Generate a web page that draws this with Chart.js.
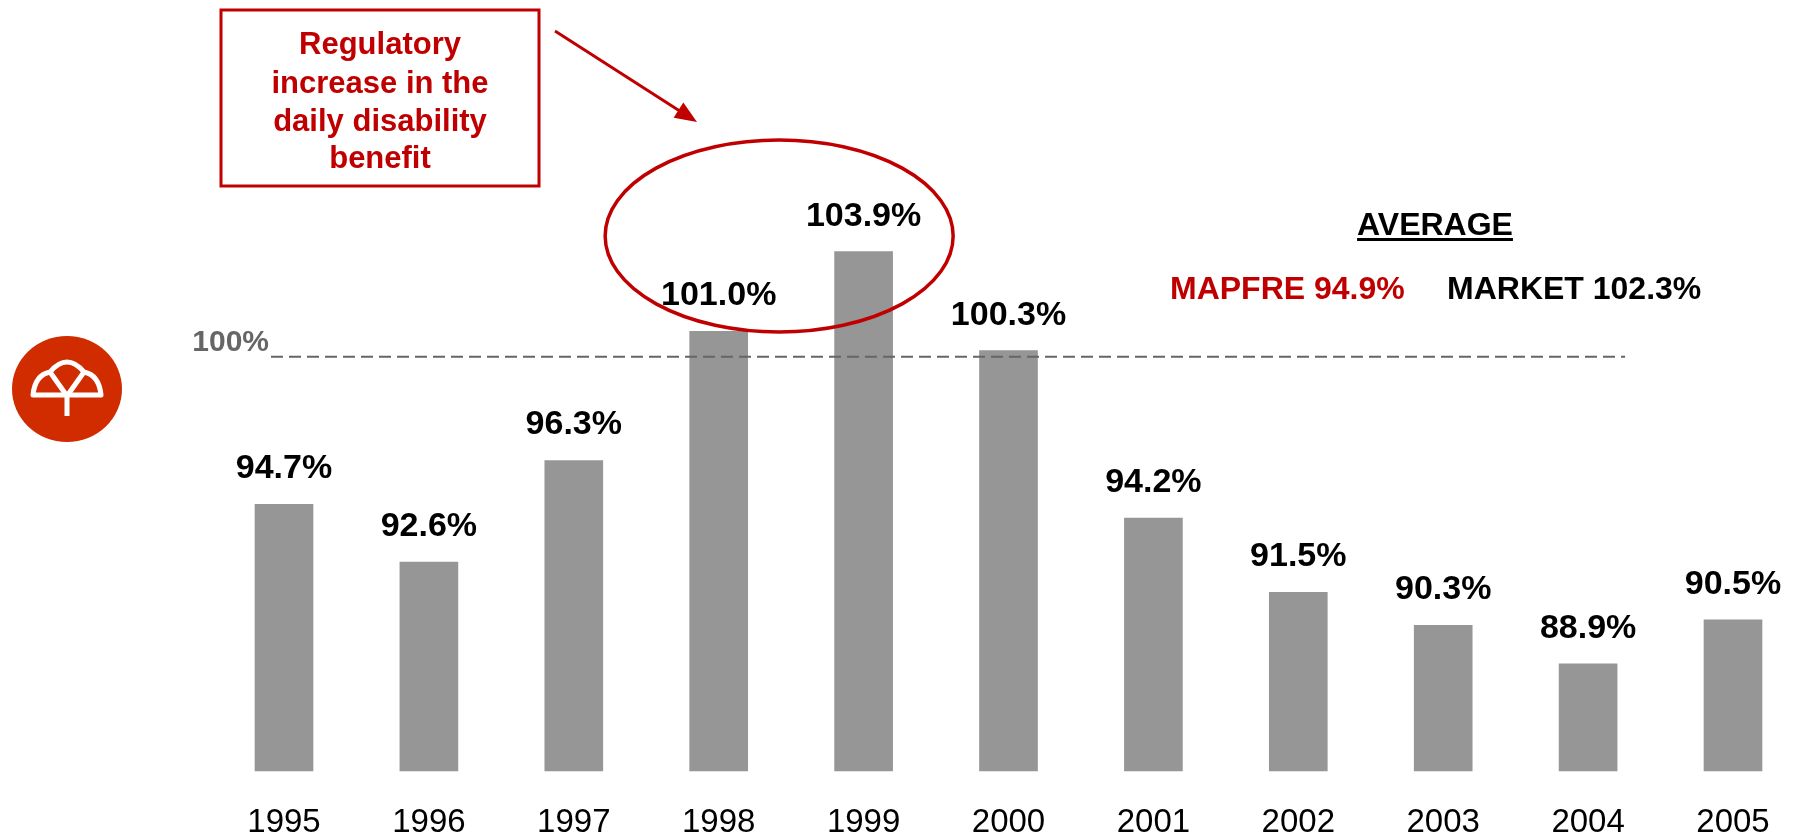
<!DOCTYPE html>
<html>
<head>
<meta charset="utf-8">
<script src="https://cdn.jsdelivr.net/npm/chart.js@4/dist/chart.umd.min.js"></script>
<style>
  html, body { margin: 0; padding: 0; background: #ffffff; }
  canvas { display: block; }
</style>
</head>
<body>
<canvas id="c" width="1798" height="837"></canvas>
<script>
// ---- data ----
const categories = ['1995', '1996', '1997', '1998', '1999', '2000', '2001', '2002', '2003', '2004', '2005'];
const ratios = [94.7, 92.6, 96.3, 101.0, 103.9, 100.3, 94.2, 91.5, 90.3, 88.9, 90.5];
const axisMin = 85;
const axisMax = 110;
const referenceValue = 100;
const referenceLabel = '100%';
const averageTitle = 'AVERAGE';
const mapfreAverage = 94.9;
const marketAverage = 102.3;
const noteLines = ['Regulatory', 'increase in the', 'daily disability', 'benefit'];
const highlightedYears = ['1998', '1999'];

const FONT = "'Liberation Sans', Arial, sans-serif";
const RED = '#c00000';

const overlayPlugin = {
  id: 'overlay',
  afterDatasetsDraw(chart) {
    const ctx = chart.ctx;
    const xs = chart.scales.x;
    const ys = chart.scales.y;
    const meta = chart.getDatasetMeta(0);
    ctx.save();

    // reference dashed line
    const yRef = ys.getPixelForValue(referenceValue) - 2;
    ctx.strokeStyle = '#666666';
    ctx.lineWidth = 2;
    ctx.setLineDash([12, 6]);
    ctx.beginPath();
    ctx.moveTo(xs.getPixelForValue(0) - 13, yRef);
    ctx.lineTo(xs.getPixelForValue(9) + 37, yRef);
    ctx.stroke();
    ctx.setLineDash([]);
    ctx.fillStyle = '#666666';
    ctx.font = 'bold 30px ' + FONT;
    ctx.textAlign = 'right';
    ctx.textBaseline = 'alphabetic';
    ctx.fillText(referenceLabel, xs.getPixelForValue(0) - 15, yRef - 6);

    // value labels
    ctx.fillStyle = '#000000';
    ctx.font = 'bold 34px ' + FONT;
    ctx.textAlign = 'center';
    meta.data.forEach((bar, i) => {
      ctx.fillText(ratios[i].toFixed(1) + '%', bar.x, bar.y - 26);
    });

    // highlight ellipse
    const i1 = categories.indexOf(highlightedYears[0]);
    const i2 = categories.indexOf(highlightedYears[1]);
    const cx = (meta.data[i1].x + meta.data[i2].x) / 2 - 12;
    ctx.strokeStyle = RED;
    ctx.lineWidth = 3.5;
    ctx.beginPath();
    ctx.ellipse(cx, 236, 174, 96, 0, 0, Math.PI * 2);
    ctx.stroke();

    // note box
    ctx.lineWidth = 3;
    ctx.strokeRect(221, 10, 318, 176);
    ctx.fillStyle = RED;
    ctx.font = 'bold 31px ' + FONT;
    ctx.textAlign = 'center';
    const baselines = [54, 93, 131, 168];
    noteLines.forEach((t, k) => ctx.fillText(t, 380, baselines[k]));

    // arrow
    const ax1 = 555, ay1 = 31, ax2 = 697, ay2 = 122;
    const ang = Math.atan2(ay2 - ay1, ax2 - ax1);
    ctx.lineWidth = 3;
    ctx.beginPath();
    ctx.moveTo(ax1, ay1);
    ctx.lineTo(ax2 - 14 * Math.cos(ang), ay2 - 14 * Math.sin(ang));
    ctx.stroke();
    ctx.beginPath();
    ctx.moveTo(ax2, ay2);
    ctx.lineTo(ax2 - 22 * Math.cos(ang) + 9 * Math.sin(ang), ay2 - 22 * Math.sin(ang) - 9 * Math.cos(ang));
    ctx.lineTo(ax2 - 22 * Math.cos(ang) - 9 * Math.sin(ang), ay2 - 22 * Math.sin(ang) + 9 * Math.cos(ang));
    ctx.closePath();
    ctx.fill();

    // averages
    ctx.fillStyle = '#000000';
    ctx.font = 'bold 32px ' + FONT;
    ctx.textAlign = 'center';
    ctx.fillText(averageTitle, 1435, 235);
    const w = ctx.measureText(averageTitle).width;
    ctx.fillRect(1435 - w / 2, 238, w, 3);
    ctx.textAlign = 'left';
    ctx.fillStyle = RED;
    ctx.fillText('MAPFRE ' + mapfreAverage.toFixed(1) + '%', 1170, 299);
    ctx.fillStyle = '#000000';
    ctx.fillText('MARKET ' + marketAverage.toFixed(1) + '%', 1447, 299);

    // logo
    ctx.fillStyle = '#d02c00';
    ctx.beginPath();
    ctx.ellipse(67, 389, 55, 53, 0, 0, Math.PI * 2);
    ctx.fill();
    ctx.strokeStyle = '#ffffff';
    ctx.lineWidth = 5;
    ctx.lineJoin = 'round';
    ctx.lineCap = 'butt';
    ctx.beginPath();
    ctx.moveTo(33, 395);
    ctx.quadraticCurveTo(35, 375, 50, 372);
    ctx.quadraticCurveTo(67, 352, 84, 372);
    ctx.quadraticCurveTo(99, 375, 101, 395);
    ctx.closePath();
    ctx.stroke();
    ctx.beginPath();
    ctx.moveTo(50, 372);
    ctx.lineTo(67, 396);
    ctx.lineTo(84, 372);
    ctx.moveTo(67, 396);
    ctx.lineTo(67, 416);
    ctx.stroke();

    ctx.restore();
  }
};

new Chart(document.getElementById('c'), {
  type: 'bar',
  data: {
    labels: categories,
    datasets: [{
      data: ratios,
      base: axisMin,
      backgroundColor: '#969696',
      borderWidth: 0,
      barThickness: 58,
      clip: false
    }]
  },
  options: {
    responsive: false,
    animation: false,
    layout: { padding: { left: 284, right: 65, top: 84, bottom: -7 } },
    plugins: { legend: { display: false }, tooltip: { enabled: false } },
    scales: {
      x: {
        type: 'category',
        offset: false,
        grid: { display: false, drawTicks: true, tickLength: 30 },
        border: { display: false },
        ticks: {
          color: '#000000',
          font: { family: FONT, size: 33, lineHeight: 1.0 },
          padding: 5,
          maxRotation: 0,
          autoSkip: false
        }
      },
      y: {
        display: false,
        min: axisMin,
        max: axisMax
      }
    }
  },
  plugins: [overlayPlugin]
});
</script>
</body>
</html>
